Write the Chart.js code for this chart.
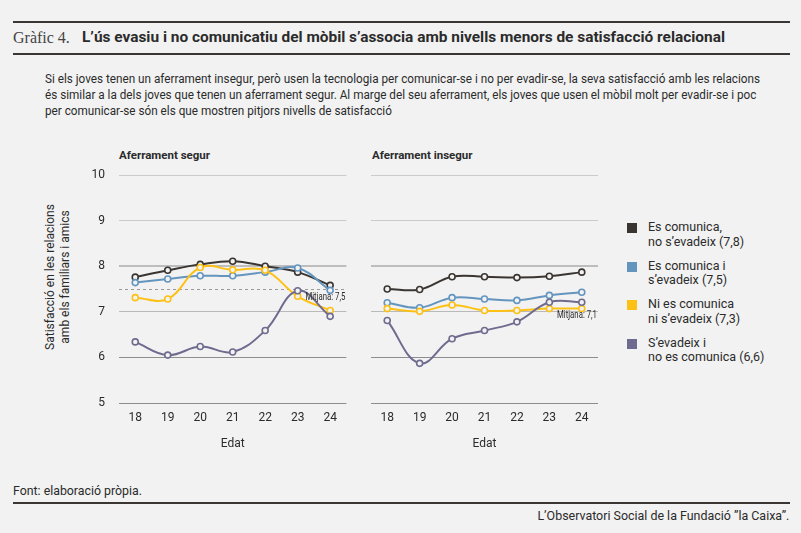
<!DOCTYPE html>
<html lang="ca">
<head>
<meta charset="utf-8">
<script src="https://cdn.jsdelivr.net/npm/chart.js@4/dist/chart.umd.min.js"></script>
<style>
  html, body { margin: 0; padding: 0; }
  body { width: 801px; height: 533px; background: #f2f2f2; position: relative; overflow: hidden; color: #2b2b2b; font-family: Roboto, "Liberation Sans", sans-serif; }
  .rule { position: absolute; left: 13px; width: 777px; background: #3a3633; }
  .abs { position: absolute; white-space: nowrap; }
  #num { left: 13px; top: 29px; font-family: "Liberation Serif", serif; font-size: 16px; color: #444; }
  #title { left: 82px; top: 28px; font-size: 15px; font-weight: bold; color: #2b2b2b; transform-origin: left center; }
  #sub { left: 45px; top: 71px; font-size: 12.5px; line-height: 16px; color: #2b2b2b; transform-origin: left top; }
  .panel { top: 148px; font-size: 11.5px; font-weight: bold; color: #2b2b2b; }
  #ytitle { left: -22px; top: 262px; width: 160px; text-align: center; font-size: 12px; line-height: 15px; transform: rotate(-90deg); color: #2b2b2b; }
  canvas { position: absolute; }
  #legend { position: absolute; left: 627px; top: 220px; font-size: 12.5px; line-height: 14.5px; color: #2b2b2b; }
  .item { position: relative; padding-left: 21px; height: 38.5px; }
  .sw { position: absolute; left: 0; top: 3px; width: 10px; height: 10px; }
  #font { left: 13px; top: 483px; font-size: 13px; color: #2b2b2b; transform-origin: left center; }
  #credit { right: 12px; top: 508px; font-size: 13px; color: #2b2b2b; transform-origin: right center; }
</style>
</head>
<body>
<div class="rule" style="top:21px;height:2px"></div>
<div class="abs" id="num">Gràfic 4.</div>
<div class="abs" id="title" data-fit="643">L’ús evasiu i no comunicatiu del mòbil s’associa amb nivells menors de satisfacció relacional</div>
<div class="rule" style="top:53px;height:2px"></div>
<div class="abs" id="sub" data-fit="715">Si els joves tenen un aferrament insegur, però usen la tecnologia per comunicar-se i no per evadir-se, la seva satisfacció amb les relacions<br>és similar a la dels joves que tenen un aferrament segur. Al marge del seu aferrament, els joves que usen el mòbil molt per evadir-se i poc<br>per comunicar-se són els que mostren pitjors nivells de satisfacció</div>

<div class="abs panel" style="left:119px">Aferrament segur</div>
<div class="abs panel" style="left:372px">Aferrament insegur</div>
<div class="abs" id="ytitle">Satisfacció en les relacions<br>amb els familiars i amics</div>

<canvas id="chart-segur" width="322" height="310" style="left:30px;top:150px;width:322px;height:310px"></canvas>
<canvas id="chart-insegur" width="252" height="310" style="left:352px;top:150px;width:252px;height:310px"></canvas>

<div id="legend"></div>

<div class="abs" id="font" data-fit="129">Font: elaboració pròpia.</div>
<div class="rule" style="top:502px;height:2px"></div>
<div class="abs" id="credit" data-fit="252">L’Observatori Social de la Fundació ”la Caixa”.</div>

<script>
// Data
const ages = ['18', '19', '20', '21', '22', '23', '24'];
const seriesNames = [
    ['Es comunica,', 'no s’evadeix (7,8)'],
    ['Es comunica i', 's’evadeix (7,5)'],
    ['Ni es comunica', 'ni s’evadeix (7,3)'],
    ['S’evadeix i', 'no es comunica (6,6)']
];
const seriesColors = ['#3a3531', '#6495bf', '#fdc116', '#6f6b8f'];

const segurComunica = [7.76, 7.91, 8.04, 8.11, 8.00, 7.87, 7.58];
const segurComunicaEvadeix = [7.64, 7.72, 7.79, 7.79, 7.87, 7.96, 7.47];
const segurNiNi = [7.31, 7.28, 7.97, 7.92, 7.91, 7.34, 7.03];
const segurEvadeix = [6.34, 6.05, 6.24, 6.12, 6.59, 7.46, 6.90];

const insegurComunica = [7.50, 7.49, 7.77, 7.77, 7.75, 7.78, 7.87];
const insegurComunicaEvadeix = [7.20, 7.09, 7.31, 7.28, 7.25, 7.36, 7.43];
const insegurNiNi = [7.07, 7.01, 7.15, 7.03, 7.03, 7.07, 7.07];
const insegurEvadeix = [6.81, 5.87, 6.41, 6.59, 6.78, 7.21, 7.21];

const mitjanaSegur = 7.5;
const mitjanaInsegur = 7.1;
const yMin = 5, yMax = 10;
const xTitle = 'Edat';

// Condensed look: squeeze text blocks to the reference widths
document.querySelectorAll('[data-fit]').forEach(el => {
    const w = el.getBoundingClientRect().width;
    el.style.transform = `scaleX(${Number(el.dataset.fit) / w})`;
});

// Legend
const legend = document.getElementById('legend');
seriesNames.forEach((lines, i) => {
    const item = document.createElement('div');
    item.className = 'item';
    item.innerHTML = `<span class="sw" style="background:${seriesColors[i]}"></span>${lines.join('<br>')}`;
    legend.appendChild(item);
});

const gridColor = value => {
    if (value <= 6) return '#8e8e8e';
    if (value === 8) return '#bdbdbd';
    if (value === 7) return '#b9b9b9';
    return '#cbcbcb';
};

// Dashed average line across the plot, with its label underneath
const mitjanaPlugin = {
    id: 'mitjana',
    beforeDatasetsDraw(chart, args, opts) {
        if (!opts.line) return;
        const { ctx, chartArea, scales } = chart;
        const y = Math.round(scales.y.getPixelForValue(opts.value)) + 0.5;
        ctx.save();
        ctx.strokeStyle = '#9a9a9a';
        ctx.lineWidth = 1;
        ctx.setLineDash([3, 3]);
        ctx.beginPath();
        ctx.moveTo(chartArea.left, y);
        ctx.lineTo(chartArea.right, y);
        ctx.stroke();
        ctx.restore();
    },
    afterDatasetsDraw(chart, args, opts) {
        const { ctx, chartArea, scales } = chart;
        const y = scales.y.getPixelForValue(opts.value);
        const text = 'Mitjana: ' + String(opts.value).replace('.', ',');
        ctx.save();
        ctx.font = '10.5px Roboto, sans-serif';
        ctx.fillStyle = '#2b2b2b';
        ctx.textAlign = 'right';
        ctx.textBaseline = 'middle';
        const w = ctx.measureText(text).width;
        ctx.translate(chartArea.right - 1, y + 8);
        ctx.scale(opts.width / w, 1);
        ctx.fillText(text, 0, 0);
        ctx.restore();
    }
};

function makeChart(id, data, mitjana, showLine, showTicks, yWidth, padRight) {
    const datasets = data.map((values, i) => ({
        data: values,
        borderColor: seriesColors[i],
        backgroundColor: seriesColors[i],
        borderWidth: 2,
        tension: 0.4,
        pointRadius: 3,
        pointBorderWidth: 1.6,
        pointBackgroundColor: '#f2f2f2',
        pointBorderColor: seriesColors[i],
        order: 4 - i
    }));
    return new Chart(document.getElementById(id).getContext('2d'), {
        type: 'line',
        data: { labels: ages, datasets },
        options: {
            responsive: false,
            animation: false,
            layout: { padding: { top: 25, right: padRight, bottom: 9, left: 0 } },
            plugins: {
                legend: { display: false },
                tooltip: { enabled: false },
                mitjana: { value: mitjana, line: showLine, width: 40 }
            },
            scales: {
                x: {
                    offset: true,
                    grid: { display: false, drawTicks: false },
                    border: { display: false },
                    ticks: { color: '#2b2b2b', padding: 8, font: { family: 'Roboto', size: 12 } },
                    title: { display: true, text: xTitle, color: '#2b2b2b', padding: { top: 6, bottom: 0 }, font: { family: 'Roboto', size: 12 } },
                    afterFit: scale => { scale.height = 48; }
                },
                y: {
                    min: yMin,
                    max: yMax,
                    ticks: { display: showTicks, stepSize: 1, color: '#2b2b2b', padding: 14, font: { family: 'Roboto', size: 12 } },
                    grid: {
                        drawTicks: false,
                        color: ctx => gridColor(ctx.tick.value),
                        lineWidth: ctx => ctx.tick.value === 8 ? 2 : 1
                    },
                    border: { display: false },
                    afterFit: scale => { scale.width = yWidth; }
                }
            }
        },
        plugins: [mitjanaPlugin]
    });
}

makeChart('chart-segur', [segurComunica, segurComunicaEvadeix, segurNiNi, segurEvadeix], mitjanaSegur, true, true, 89, 5);
makeChart('chart-insegur', [insegurComunica, insegurComunicaEvadeix, insegurNiNi, insegurEvadeix], mitjanaInsegur, false, false, 19, 6);
</script>
</body>
</html>
